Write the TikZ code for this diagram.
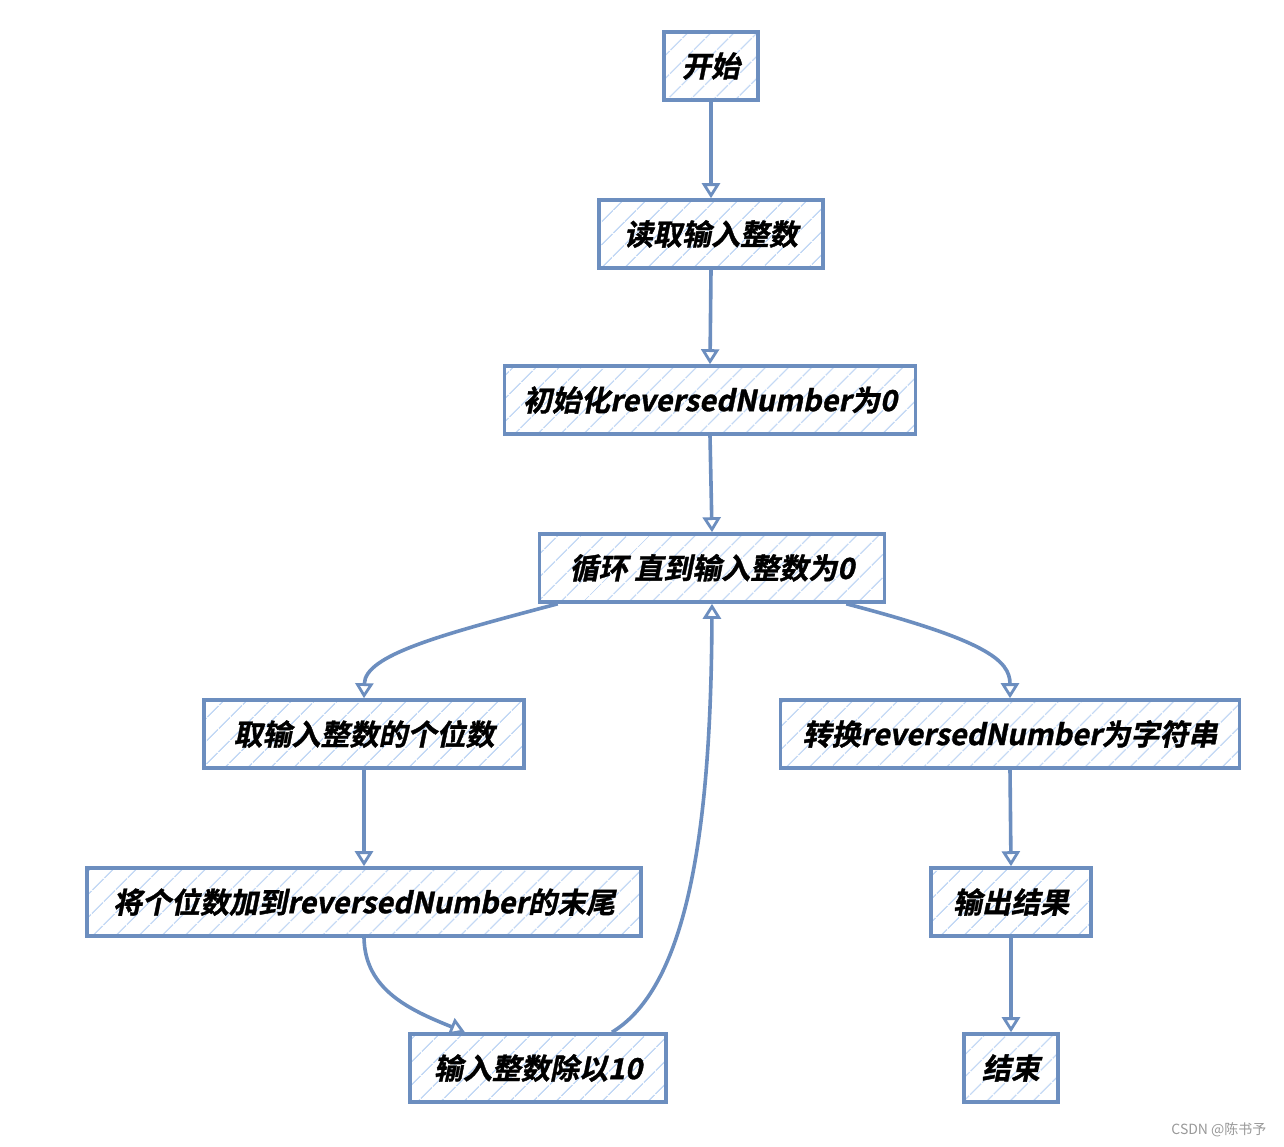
\documentclass[tikz,border=0pt]{standalone}
\usepackage{fontspec}
\newfontfamily\cjk{Noto Sans CJK SC Bold}[FakeSlant=0.2,FakeBold=1.2]
\newfontfamily\wm{Noto Sans CJK SC}
\usetikzlibrary{arrows.meta,patterns.meta}
\definecolor{edge}{HTML}{6C8EBF}
\definecolor{hatch}{HTML}{C4D9F5}
\begin{document}
\begin{tikzpicture}[x=1pt,y=-1pt,
  box/.style={draw=edge, line width=3.6pt,
    pattern={Lines[angle=45,distance=17pt,line width=1.6pt]}, pattern color=hatch,
    font=\cjk\fontsize{29}{32}\selectfont, inner sep=0pt, text=black, minimum height=68pt},
  arr/.style={draw=edge, line width=3.6pt, -{Triangle[open,length=15pt,width=18pt,line width=2.8pt]}}]
\useasboundingbox[fill=white] (0,0) rectangle (1284,1146);

\node[box, minimum width=94pt]  (start) at (711,66)   {开始};
\node[box, minimum width=224pt] (read)  at (711,234)  {读取输入整数};
\node[box, minimum width=411pt] (init)  at (710,400)  {初始化reversedNumber为0};
\node[box, minimum width=345pt] (loop)  at (712,568)  {循环 直到输入整数为0};
\node[box, minimum width=320pt] (digit) at (364,734)  {取输入整数的个位数};
\node[box, minimum width=459pt] (conv)  at (1010,734) {转换reversedNumber为字符串};
\node[box, minimum width=554pt] (add)   at (364,902)  {将个位数加到reversedNumber的末尾};
\node[box, minimum width=256pt] (div)   at (538,1068) {输入整数除以10};
\node[box, minimum width=160pt] (out)   at (1011,902) {输出结果};
\node[box, minimum width=94pt]  (end)   at (1011,1068) {结束};

\draw[arr] (start.south) -- (read.north);
\draw[arr] (read.south) -- (init.north);
\draw[arr] (init.south) -- (loop.north);
\draw[arr] ([xshift=20pt]loop.south west) .. controls (440,635) and (365,655) .. (digit.north);
\draw[arr] ([xshift=-40pt]loop.south east) .. controls (985,640) and (1010,660) .. (conv.north);
\draw[arr] (digit.south) -- (add.north);
\draw[arr] (add.south) .. controls (365,990) and (410,1010) .. ([xshift=-73pt]div.north);
\draw[arr] ([xshift=74pt]div.north) .. controls (690,985) and (711,820) .. (loop.south);
\draw[arr] (conv.south) -- (out.north);
\draw[arr] (out.south) -- (end.north);

\node[text=gray!80, font=\wm\fontsize{14}{16}\selectfont, anchor=east] (wmk) at (1270,1130) {CSDN @陈书予};
\end{tikzpicture}
\end{document}
